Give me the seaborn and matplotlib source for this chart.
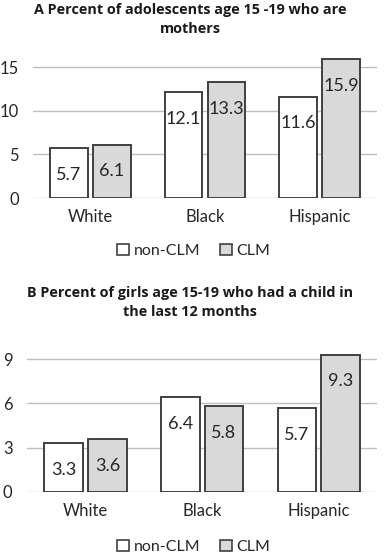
import pandas as pd
import numpy as np
import matplotlib
matplotlib.use('Agg')
import matplotlib.pyplot as plt
import matplotlib.patches as mpatches
import seaborn as sns

groups = ['White', 'Black', 'Hispanic']
status = ['non-CLM', 'CLM']
mothers_nonclm = [5.7, 12.1, 11.6]
mothers_clm = [6.1, 13.3, 15.9]
child_nonclm = [3.3, 6.4, 5.7]
child_clm = [3.6, 5.8, 9.3]

title_a = 'A Percent of adolescents age 15 -19 who are\nmothers'
title_b = 'B Percent of girls age 15-19 who had a child in\nthe last 12 months'

sns.set_theme(style='white')
plt.rcParams['font.family'] = ['Lato', 'DejaVu Sans']

edge = '#404040'
grid = '#bfbfbf'
txt = '#262626'
pal = {'non-CLM': 'white', 'CLM': '#d9d9d9'}


def make_df(a, b):
    return pd.DataFrame({'Group': groups * 2,
                         'Status': [status[0]] * 3 + [status[1]] * 3,
                         'Value': list(a) + list(b)})


def panel(ax, df, yticks, ylim, title_y, title, leg_y, ypad):
    sns.barplot(data=df, x='Group', y='Value', hue='Status', hue_order=status,
                order=groups, palette=pal, width=0.75, gap=0.12,
                edgecolor=edge, linewidth=1.4, legend=False, ax=ax)
    ax.set_ylim(*ylim)
    ax.set_xlim(-0.5, 2.5)
    ax.set_yticks(yticks)
    ax.yaxis.grid(True, color=grid, linewidth=1)
    ax.set_axisbelow(True)
    for s in ax.spines.values():
        s.set_visible(False)
    ax.tick_params(axis='both', length=0, labelsize=12, colors=txt)
    ax.tick_params(axis='x', pad=8)
    ax.tick_params(axis='y', pad=ypad)
    ax.set(xlabel=None, ylabel=None)
    for c in ax.containers:
        ax.bar_label(c, fmt='%.1f', padding=-25, fontsize=13, color=txt)
    ax.figure.text(0.49, title_y, title, ha='center', va='top',
                   fontsize=10.4, fontweight='bold', color='#1a1a1a',
                   family=['Open Sans', 'DejaVu Sans'], linespacing=1.5)
    handles = [mpatches.Patch(facecolor=pal[s], edgecolor=edge, linewidth=1.2, label=s)
               for s in status]
    ax.figure.legend(handles=handles, loc='center', bbox_to_anchor=(0.5, leg_y),
                     ncol=2, frameon=False, fontsize=11.5, handlelength=0.75,
                     handleheight=0.75, handletextpad=0.3, columnspacing=1.2,
                     labelcolor=txt)


fig = plt.figure(figsize=(3.88, 5.57), dpi=100)
ax1 = fig.add_axes([0.085, 0.6445, 0.887, 0.254])
ax2 = fig.add_axes([0.07, 0.1167, 0.902, 0.252])

panel(ax1, make_df(mothers_nonclm, mothers_clm), [0, 5, 10, 15], (0, 16.2),
      0.995, title_a, 1 - 251 / 557, 10.3)
panel(ax2, make_df(child_nonclm, child_clm), [0, 3, 6, 9], (0, 9.5),
      1 - 286 / 557, title_b, 1 - 547 / 557, 10.5)

fig.savefig('out.png', dpi=100)
